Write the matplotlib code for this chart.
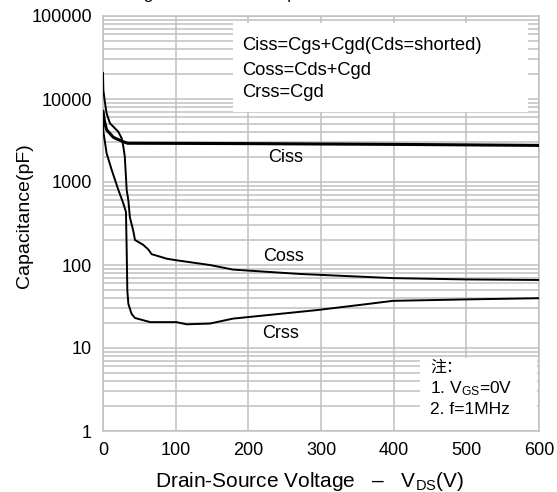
import matplotlib
matplotlib.use("Agg")
import matplotlib.pyplot as plt
from matplotlib.patches import Rectangle
from matplotlib.ticker import LogLocator, NullFormatter

plt.rcParams['font.family'] = ['Liberation Sans', 'Noto Sans CJK SC']
plt.rcParams['mathtext.fontset'] = 'custom'
plt.rcParams['mathtext.rm'] = 'Liberation Sans'
plt.rcParams['mathtext.it'] = 'Liberation Sans'

# data (V, pF)
ciss_v = [0, 2, 5, 10, 14, 19, 23, 28, 34, 100, 200, 300, 400, 500, 600]
ciss_c = [7100, 5400, 4250, 3800, 3470, 3300, 3200, 3050, 2930, 2920, 2900, 2870, 2840, 2800, 2760]

coss_v = [0, 0.5, 2.8, 5, 9.6, 16.5, 21, 25.7, 28, 30, 32.6, 34.9, 37, 41.7, 44, 55, 62, 67,
          88, 101, 147, 179, 271, 399, 500, 600]
coss_c = [20500, 12800, 8870, 6700, 5100, 4430, 4040, 3360, 2670, 2020, 800, 600, 375, 257,
          200, 176, 155, 135, 119, 114, 100, 88, 78, 69.5, 67, 66]

crss_v = [0, 0.5, 5, 12, 21, 28, 31.6, 32.6, 33.5, 34.9, 39.4, 44, 65, 101, 115, 147, 179,
          294, 363, 399, 500, 600]
crss_c = [5330, 4040, 2210, 1395, 810, 550, 435, 149, 49, 34, 25.7, 23, 20.5, 20.5, 19.3,
          19.7, 22.6, 28.6, 33.8, 37.0, 38.5, 39.8]

y_ticks = [1, 10, 100, 1000, 10000, 100000]
y_labels = ['1', '10', '100', '1000', '10000', '100000']
x_ticks = [0, 100, 200, 300, 400, 500, 600]

fig = plt.figure(figsize=(5.57, 4.92), dpi=100)
ax = fig.add_axes([103 / 557, 1 - 431 / 492, 436 / 557, 415 / 492])

ax.set_yscale('log')
ax.set_xlim(0, 600)
ax.set_ylim(1, 100000)
ax.set_xticks(x_ticks)
ax.set_yticks(y_ticks)
ax.set_yticklabels(y_labels)
ax.yaxis.set_minor_locator(LogLocator(base=10, subs=range(2, 10)))
ax.yaxis.set_minor_formatter(NullFormatter())
ax.tick_params(which='both', length=0, labelsize=13, pad=8)

ax.set_axisbelow(True)
ax.grid(True, which='both', axis='y', color='#c0c0c0', lw=1.1)
ax.grid(True, which='major', axis='x', color='#c0c0c0', lw=1.1)
for s in ax.spines.values():
    s.set_color('#c0c0c0')
    s.set_linewidth(1.1)

ax.plot(ciss_v, ciss_c, color='black', lw=2.2, zorder=3)
ax.plot(coss_v, coss_c, color='black', lw=1.4, zorder=3)
ax.plot(crss_v, crss_c, color='black', lw=1.4, zorder=3)

ax.text(252, 2000, 'Ciss', fontsize=13, ha='center', va='center')
ax.text(249, 125, 'Coss', fontsize=13, ha='center', va='center')
ax.text(244, 15, 'Crss', fontsize=13, ha='center', va='center')

# formula box
ax.add_patch(Rectangle((179, 6970), 406, 82400 - 6970, facecolor='white',
                       edgecolor='none', zorder=1))
ax.text(192, 43600, 'Ciss=Cgs+Cgd(Cds=shorted)', fontsize=13.2, va='center', zorder=2)
ax.text(192, 22300, 'Coss=Cds+Cgd', fontsize=13.2, va='center', zorder=2)
ax.text(192, 12100, 'Crss=Cgd', fontsize=13.2, va='center', zorder=2)

# note box
ax.add_patch(Rectangle((436, 1.03), 161, 7.58 - 1.03, facecolor='white',
                       edgecolor='none', zorder=1))
ax.text(450, 5.9, '注：', fontsize=11.5, va='center', zorder=2)
ax.text(450, 3.2, r'1. V$_{\rm GS}$=0V', fontsize=12.5, va='center', zorder=2)
ax.text(450, 1.84, '2. f=1MHz', fontsize=12.5, va='center', zorder=2)

ax.set_xlabel(r'Drain-Source Voltage   –   V$_{\rm DS}$(V)', fontsize=15)
ax.xaxis.set_label_coords((310 - 103) / 436, -0.093)
ax.set_ylabel('Capacitance(pF)', fontsize=14)
ax.yaxis.set_label_coords(-(103 - 33) / 436, (431 - 216) / 415)

# title clipped by the top edge of the image
fig.text(105 / 557, 1 + 1.5 / 492, 'Voltage vs. Junction Capacitance', fontsize=12.5,
         ha='left', va='baseline')

fig.savefig('out.png', dpi=100)
